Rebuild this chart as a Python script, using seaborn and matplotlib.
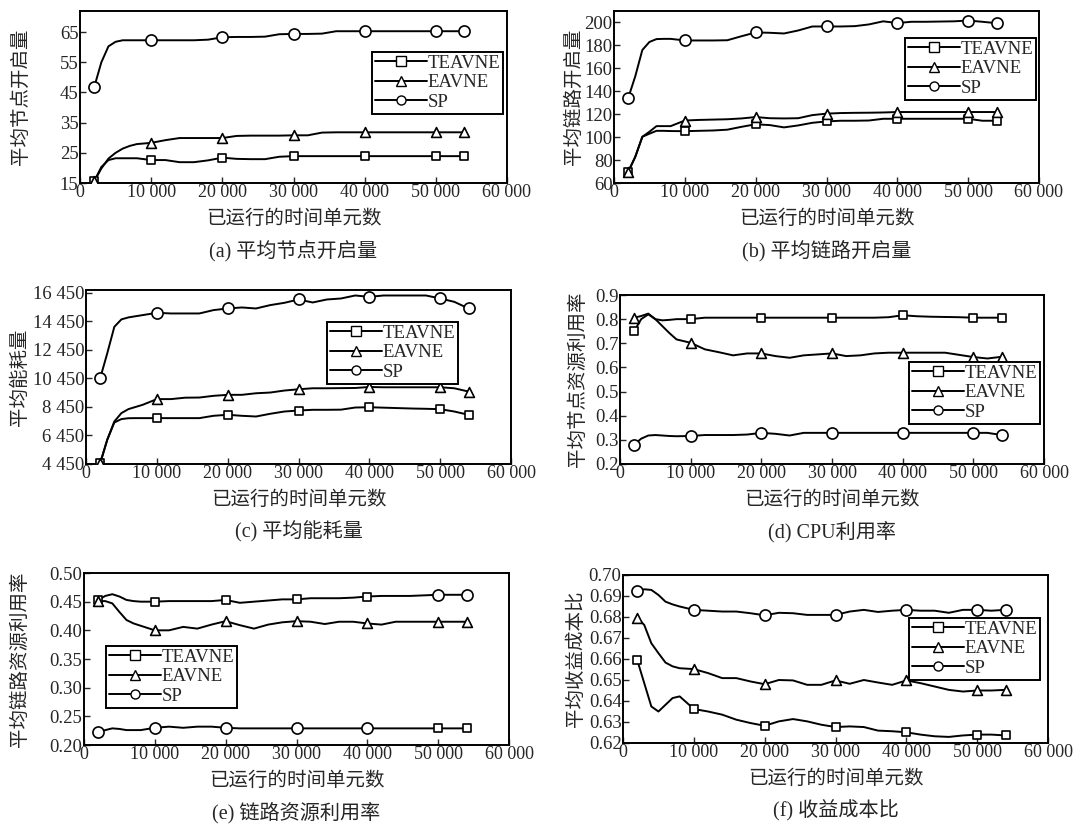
import numpy as np
import pandas as pd
import matplotlib
matplotlib.use("Agg")
import matplotlib.pyplot as plt
from matplotlib.lines import Line2D
from matplotlib.ticker import FuncFormatter
import seaborn as sns

# 数据: 已运行的时间单元数
t = [2000, 3000, 4000, 5000, 6000, 7000, 8000, 10000, 12000, 14000, 16000, 18000, 20000,
     22000, 24000, 26000, 28000, 30000, 32000, 34000, 36000, 38000, 40000, 42000, 44000,
     46000, 48000, 50000, 52000, 54000]
mark_t = [2000, 10000, 20000, 30000, 40000, 50000, 54000]
names = ["TEAVNE", "EAVNE", "SP"]

# (a) 平均节点开启量
a_teavne = [15.6, 20.3, 22.6, 23.2, 23.2, 23.2, 23.2, 22.6, 22.6, 21.9, 21.9, 22.5, 23.4,
            23.0, 22.9, 22.9, 23.7, 23.9, 23.9, 23.9, 23.9, 23.9, 23.9, 23.9, 23.9, 23.9,
            23.9, 23.9, 23.9, 23.9]
a_eavne = [15.6, 19.8, 23.1, 25.0, 26.4, 27.3, 27.9, 28.3, 29.2, 29.9, 29.9, 29.9, 29.9,
           30.6, 30.7, 30.7, 30.7, 30.8, 30.8, 31.7, 31.8, 31.8, 31.8, 31.8, 31.8, 31.8,
           31.8, 31.8, 31.8, 31.8]
a_sp = [46.8, 55.0, 60.3, 61.8, 62.3, 62.3, 62.3, 62.3, 62.3, 62.3, 62.3, 62.5, 63.3,
        63.4, 63.4, 63.5, 64.3, 64.4, 64.4, 64.5, 65.3, 65.3, 65.3, 65.3, 65.3, 65.3,
        65.3, 65.3, 65.3, 65.3]

# (b) 平均链路开启量
b_teavne = [69.7, 82.8, 100.3, 103, 105.5, 105.5, 105.3, 105.2, 105.5, 105.8, 106.5, 109,
            111.2, 110.5, 108.5, 110.2, 112.5, 113.7, 114.3, 114.3, 114.5, 116, 116, 116,
            116, 116, 116, 116, 114.3, 114.3]
b_eavne = [69.7, 82.8, 100.3, 104.7, 109.6, 109.6, 109.6, 114.5, 115, 115.3, 115.6, 116.3,
           117.5, 116.5, 116.3, 116.5, 119.2, 120.5, 121, 121.2, 121.3, 121.5, 121.9, 121.9,
           121.9, 121.9, 121.9, 121.9, 121.9, 121.9]
b_sp = [134, 153, 176, 183, 185.5, 185.7, 185.7, 184.3, 184.3, 184.3, 184.5, 188, 191.3,
        191, 190.4, 193, 196.5, 196.5, 196.5, 196.8, 198.3, 201, 199.5, 200.6, 200.6,
        200.8, 201, 201.7, 200.6, 199.4]

# (c) 平均能耗量
c_teavne = [4500, 6150, 7360, 7600, 7660, 7666, 7666, 7666, 7666, 7666, 7666, 7830, 7900,
            7830, 7780, 7970, 8130, 8200, 8250, 8250, 8260, 8410, 8430, 8400, 8370, 8340,
            8320, 8295, 8130, 7900]
c_eavne = [4500, 6150, 7430, 8020, 8300, 8450, 8600, 9000, 9000, 9100, 9110, 9230, 9300,
           9300, 9410, 9460, 9600, 9690, 9760, 9760, 9770, 9780, 9850, 9830, 9830, 9830,
           9830, 9830, 9760, 9530]
c_sp = [10460, 12210, 14070, 14590, 14730, 14810, 14890, 15050, 15005, 15005, 15005, 15240,
        15355, 15425, 15355, 15590, 15750, 15985, 15775, 15985, 16055, 16265, 16170, 16265,
        16265, 16265, 16265, 16055, 15820, 15355]

# (d) CPU利用率
d_teavne = [0.75, 0.80, 0.82, 0.80, 0.795, 0.797, 0.80, 0.80, 0.806, 0.806, 0.806, 0.806,
            0.806, 0.806, 0.806, 0.806, 0.806, 0.806, 0.806, 0.806, 0.806, 0.808, 0.816,
            0.812, 0.81, 0.809, 0.808, 0.806, 0.806, 0.806]
d_eavne = [0.806, 0.813, 0.823, 0.80, 0.771, 0.742, 0.716, 0.702, 0.675, 0.663, 0.65, 0.658,
           0.658, 0.647, 0.64, 0.65, 0.654, 0.658, 0.647, 0.65, 0.658, 0.661, 0.661, 0.661,
           0.661, 0.661, 0.652, 0.643, 0.637, 0.644]
d_sp = [0.28, 0.305, 0.318, 0.32, 0.318, 0.316, 0.315, 0.316, 0.32, 0.32, 0.32, 0.322,
        0.329, 0.325, 0.318, 0.329, 0.329, 0.329, 0.329, 0.329, 0.329, 0.329, 0.329,
        0.329, 0.329, 0.329, 0.329, 0.329, 0.329, 0.32]

# (e) 链路资源利用率
e_teavne = [0.453, 0.46, 0.463, 0.459, 0.453, 0.451, 0.45, 0.45, 0.451, 0.451, 0.451, 0.451,
            0.453, 0.448, 0.45, 0.452, 0.454, 0.454, 0.456, 0.456, 0.456, 0.457, 0.459,
            0.46, 0.46, 0.46, 0.461, 0.462, 0.462, 0.462]
e_eavne = [0.451, 0.451, 0.447, 0.432, 0.418, 0.412, 0.408, 0.40, 0.40, 0.406, 0.403, 0.41,
           0.416, 0.409, 0.403, 0.41, 0.414, 0.416, 0.415, 0.411, 0.415, 0.415, 0.412,
           0.41, 0.415, 0.415, 0.415, 0.415, 0.415, 0.415]
e_sp = [0.222, 0.226, 0.229, 0.228, 0.226, 0.226, 0.226, 0.230, 0.232, 0.230, 0.232, 0.232,
        0.230, 0.229, 0.229, 0.229, 0.229, 0.229, 0.229, 0.229, 0.229, 0.229, 0.229,
        0.229, 0.229, 0.229, 0.229, 0.229, 0.229, 0.229]

# (f) 收益成本比
f_teavne = [0.6596, 0.6485, 0.6374, 0.635, 0.6382, 0.6414, 0.6422, 0.6362, 0.635, 0.6335,
            0.6311, 0.6295, 0.6282, 0.6303, 0.6314, 0.6303, 0.6287, 0.6276, 0.6279, 0.6276,
            0.6259, 0.6256, 0.6251, 0.624, 0.6232, 0.6229, 0.6236, 0.624, 0.624, 0.6236]
f_eavne = [0.6797, 0.6762, 0.6675, 0.6628, 0.6583, 0.6565, 0.6556, 0.6552, 0.6533, 0.6509,
           0.6509, 0.6493, 0.648, 0.650, 0.6498, 0.6477, 0.6477, 0.6498, 0.6482, 0.650,
           0.6488, 0.6477, 0.6498, 0.6485, 0.6469, 0.6453, 0.6445, 0.645, 0.645, 0.6453]
f_sp = [0.6924, 0.6932, 0.6929, 0.6905, 0.6873, 0.686, 0.685, 0.6834, 0.683, 0.6826, 0.6826,
        0.6818, 0.6808, 0.682, 0.6818, 0.681, 0.681, 0.681, 0.6826, 0.6834, 0.6824, 0.683,
        0.6834, 0.683, 0.683, 0.682, 0.6834, 0.6834, 0.683, 0.6834]

ylabels = ["平均节点开启量", "平均链路开启量", "平均能耗量",
           "平均节点资源利用率", "平均链路资源利用率", "平均收益成本比"]
captions = ["(a) 平均节点开启量", "(b) 平均链路开启量", "(c) 平均能耗量",
            "(d) CPU利用率", "(e) 链路资源利用率", "(f) 收益成本比"]
xlabel = "已运行的时间单元数"

sns.set_style("ticks")
plt.rcParams["font.family"] = ["Liberation Serif", "Noto Sans CJK SC"]
plt.rcParams["axes.unicode_minus"] = False

W, H = 1092, 824
fig = plt.figure(figsize=(W / 100, H / 100), dpi=100)

# 每个子图: 数据, y范围, y刻度, 像素框(l, r, t, b), ylabel偏移, 图例左上角(px)
panels = [
    dict(data=[a_teavne, a_eavne, a_sp], ylim=(15, 72), yticks=[15, 25, 35, 45, 55, 65],
         box=(80, 507, 11, 183), ylx=59, leg=(372, 52)),
    dict(data=[b_teavne, b_eavne, b_sp], ylim=(60, 210), yticks=list(range(60, 201, 20)),
         box=(614, 1039, 11, 183), ylx=40, leg=(905, 38)),
    dict(data=[c_teavne, c_eavne, c_sp], ylim=(4450, 16650),
         yticks=[4450, 6450, 8450, 10450, 12450, 14450, 16450],
         box=(86, 511, 290, 464), ylx=66, leg=(327, 322)),
    dict(data=[d_teavne, d_eavne, d_sp], ylim=(0.2, 0.9),
         yticks=[0.2, 0.3, 0.4, 0.5, 0.6, 0.7, 0.8, 0.9],
         box=(620, 1044, 295, 464), ylx=42, leg=(909, 362)),
    dict(data=[e_teavne, e_eavne, e_sp], ylim=(0.2, 0.5),
         yticks=[0.20, 0.25, 0.30, 0.35, 0.40, 0.45, 0.50],
         box=(84, 509, 573, 745), ylx=64, leg=(106, 646)),
    dict(data=[f_teavne, f_eavne, f_sp], ylim=(0.62, 0.70),
         yticks=[0.62, 0.63, 0.64, 0.65, 0.66, 0.67, 0.68, 0.69, 0.70],
         box=(623, 1048, 575, 743), ylx=47, leg=(909, 618)),
]
ytick_fmt = [lambda v, p: f"{v:.0f}", lambda v, p: f"{v:.0f}",
             lambda v, p: f"{v:,.0f}".replace(",", " "), lambda v, p: f"{v:.1f}",
             lambda v, p: f"{v:.2f}", lambda v, p: f"{v:.2f}"]

base_marks = {"TEAVNE": "s", "EAVNE": "^", "SP": "o"}
msize = {"s": 36, "^": 50, "o": 64}
# 原图 (e) 中上下两条线末端两个标记互换
e_marks = {"TEAVNE": ["s"] * 5 + ["o"] * 2, "SP": ["o"] * 5 + ["s"] * 2}

for i, p in enumerate(panels):
    l, r, tp, b = p["box"]
    ax = fig.add_axes([l / W, 1 - b / H, (r - l) / W, (b - tp) / H])
    for name, vals in zip(names, p["data"]):
        df = pd.DataFrame({"t": t, "v": vals})
        sns.lineplot(data=df, x="t", y="v", ax=ax, color="black", lw=1.4, zorder=2)
        mk = df[df["t"].isin(mark_t)]
        if i == 4 and name in e_marks:
            mlist = e_marks[name]
        else:
            mlist = [base_marks[name]] * len(mk)
        for m in set(mlist):
            sub = mk[[mm == m for mm in mlist]]
            sns.scatterplot(data=sub, x="t", y="v", ax=ax, marker=m, s=msize[m],
                            color="white", edgecolor="black", linewidth=1.2, zorder=3)
    ax.set_xlim(0, 60000)
    ax.set_ylim(*p["ylim"])
    ax.set_xticks(range(0, 60001, 10000))
    ax.set_yticks(p["yticks"])
    ax.xaxis.set_major_formatter(FuncFormatter(lambda v, pos: f"{v:,.0f}".replace(",", " ")))
    ax.yaxis.set_major_formatter(FuncFormatter(ytick_fmt[i]))
    ax.tick_params(direction="in", length=4, width=1, pad=1)
    ax.tick_params(axis="x", labelsize=13)
    ax.tick_params(axis="y", labelsize=13.5)
    for s in ax.spines.values():
        s.set_linewidth(1.4)
        s.set_color("black")
    ax.set_ylabel(ylabels[i], fontsize=14)
    ax.yaxis.label.set_va("center")
    ax.yaxis.set_label_coords(-p["ylx"] / (r - l), 0.5)
    ax.set_xlabel("")
    ax.text(0.5, -36 / (b - tp), xlabel, transform=ax.transAxes, ha="center", va="center",
            fontsize=14)
    ax.text(0.5, -68 / (b - tp), captions[i], transform=ax.transAxes, ha="center",
            va="center", fontsize=14.5)
    handles = [Line2D([], [], color="black", lw=1.4, marker=base_marks[n], markersize=6.5,
                      markerfacecolor="white", markeredgecolor="black") for n in names]
    lx, ly = p["leg"]
    ax.legend(handles, names, loc="upper left",
              bbox_to_anchor=((lx - l) / (r - l), 1 - (ly - tp) / (b - tp)),
              frameon=True, fancybox=False, edgecolor="black", framealpha=1,
              fontsize=13.5, handlelength=2.8, handletextpad=0.0, labelspacing=0.12,
              borderpad=0.15, borderaxespad=0)
    ax.get_legend().get_frame().set_linewidth(1.4)

fig.savefig("out.png", dpi=100)
